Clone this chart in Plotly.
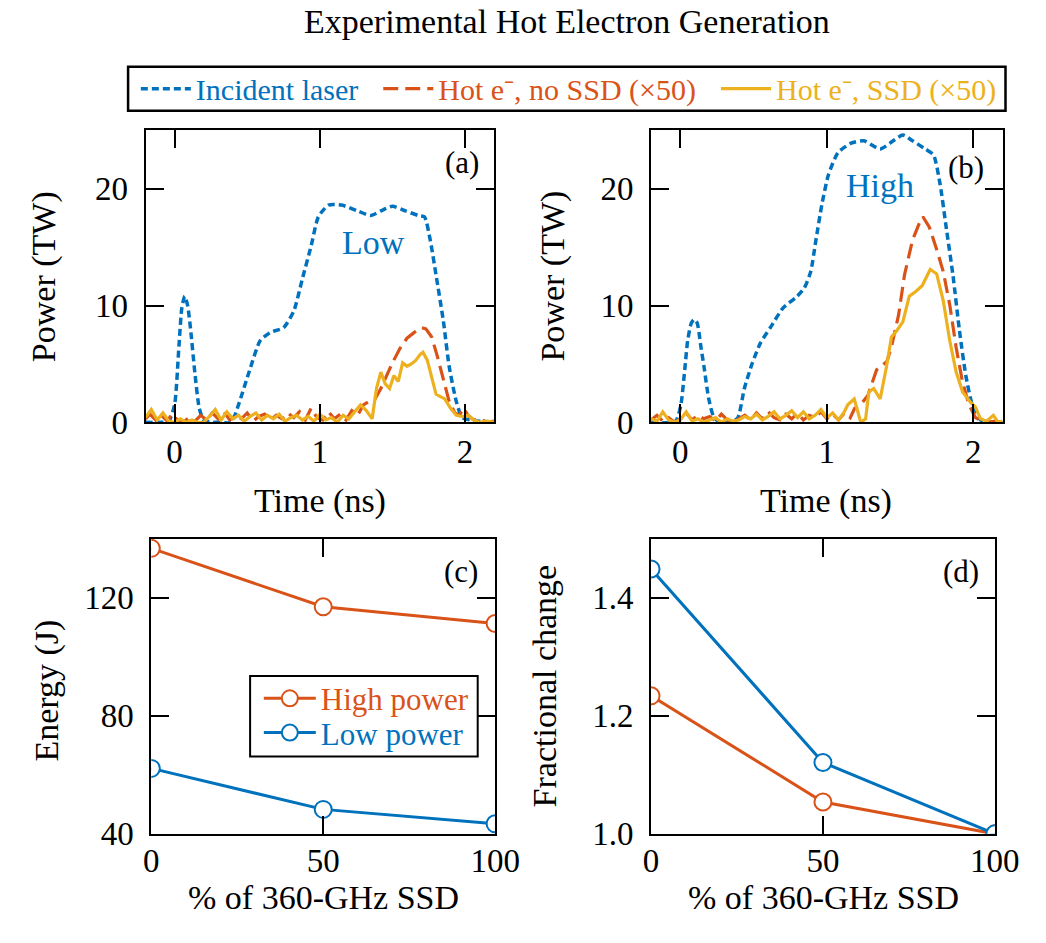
import plotly.graph_objects as go

# ---------------- data ----------------
a_laser_t = [-0.2, -0.1, -0.04, 0.0, 0.03, 0.05, 0.07, 0.09, 0.11, 0.14, 0.17, 0.2, 0.25, 0.3, 0.39, 0.44, 0.51, 0.59, 0.66, 0.75, 0.82, 0.88, 0.94, 0.99, 1.06, 1.15, 1.26, 1.35, 1.42, 1.5, 1.59, 1.68, 1.72, 1.76, 1.8, 1.85, 1.89, 1.94, 1.98, 2.04, 2.1, 2.2]
a_laser_p = [0, 0, 0.1, 1.5, 6.5, 9.8, 10.8, 10.0, 8.0, 4.2, 1.2, 0.2, 0, 0, 0, 1.5, 4.2, 7.0, 7.7, 8.1, 9.5, 12.3, 15.1, 17.6, 18.6, 18.6, 18.1, 17.7, 18.1, 18.5, 18.1, 17.7, 17.6, 15.6, 12.6, 8.7, 4.8, 1.75, 0.4, 0.2, 0.1, 0]

a_nossd_t = [-0.2, -0.17, -0.13, -0.09, -0.05, -0.02, 0.02, 0.06, 0.1, 0.14, 0.18, 0.22, 0.26, 0.3, 0.34, 0.38, 0.42, 0.46, 0.5, 0.54, 0.58, 0.62, 0.66, 0.7, 0.74, 0.78, 0.82, 0.86, 0.9, 0.94, 0.98, 1.02, 1.06, 1.1, 1.14, 1.18, 1.22, 1.26, 1.3, 1.34, 1.38, 1.42, 1.46, 1.5, 1.55, 1.6, 1.65, 1.7, 1.73, 1.77, 1.81, 1.85, 1.89, 1.93, 1.96, 1.99, 2.02, 2.06, 2.1, 2.15, 2.2]
a_nossd_p = [0.3, 0.7, 0.2, 0.6, 0.1, 0.7, 0.2, 0.0, 0.4, 0.1, 0.6, 0.2, 0.8, 0.3, 0.9, 0.2, 0.6, 0.3, 0.8, 0.1, 0.5, 0.7, 0.2, 0.6, 0.3, 0.8, 0.4, 0.9, 0.2, 1.2, 0.4, 0.2, 0.9, 0.3, 0.7, 0.2, 1.0, 0.6, 1.5, 1.8, 2.0, 2.9, 4.0, 5.1, 6.3, 7.2, 7.7, 8.1, 8.0, 7.3, 5.6, 3.7, 1.8, 0.8, 0.6, 1.2, 0.6, 0.2, 0.3, 0.0, 0.1]

a_ssd_t = [-0.2, -0.16, -0.12, -0.08, -0.04, 0.0, 0.04, 0.08, 0.12, 0.16, 0.2, 0.24, 0.28, 0.32, 0.36, 0.4, 0.44, 0.48, 0.52, 0.56, 0.6, 0.64, 0.68, 0.72, 0.76, 0.8, 0.84, 0.88, 0.92, 0.96, 1.0, 1.04, 1.08, 1.12, 1.16, 1.2, 1.24, 1.28, 1.32, 1.36, 1.39, 1.42, 1.45, 1.48, 1.51, 1.54, 1.57, 1.6, 1.63, 1.66, 1.69, 1.71, 1.74, 1.77, 1.8, 1.83, 1.86, 1.9, 1.94, 1.98, 2.02, 2.06, 2.1, 2.15, 2.2]
a_ssd_p = [0.4, 1.1, 0.2, 0.8, 0.1, 0.0, 0.3, 0.0, 0.2, 0.0, 0.0, 0.5, 1.1, 0.2, 0.9, 0.3, 0.6, 0.1, 0.5, 0.8, 0.2, 0.6, 0.3, 0.7, 0.1, 0.4, 0.6, 0.2, 0.5, 0.1, 0.7, 0.2, 0.4, 0.0, 0.6, 0.3, 0.9, 1.5, 1.0, 0.3, 2.9, 4.3, 3.3, 2.9, 4.0, 3.5, 5.1, 4.8, 5.0, 5.3, 5.8, 6.0, 5.3, 3.7, 2.4, 2.2, 2.0, 1.2, 0.6, 0.5, 0.6, 0.2, 0.0, 0.1, 0.0]

b_laser_t = [-0.2, -0.05, -0.026, 0.004, 0.03, 0.05, 0.075, 0.095, 0.115, 0.14, 0.161, 0.194, 0.227, 0.27, 0.35, 0.393, 0.437, 0.492, 0.547, 0.614, 0.702, 0.79, 0.846, 0.89, 0.923, 0.967, 1.011, 1.077, 1.166, 1.254, 1.364, 1.453, 1.519, 1.585, 1.673, 1.728, 1.773, 1.817, 1.861, 1.905, 1.949, 1.993, 2.049, 2.1, 2.2]
b_laser_p = [0, 0, 0.2, 1.5, 4.5, 7.0, 8.5, 8.8, 8.5, 6.5, 4.8, 2.0, 0.5, 0, 0, 0.4, 2.9, 5.1, 6.8, 8.1, 9.8, 10.7, 11.5, 12.9, 15.4, 18.7, 21.2, 23.1, 23.9, 24.1, 23.4, 24.1, 24.6, 24.1, 23.4, 22.9, 20.4, 16.5, 12.6, 7.9, 4.0, 1.5, 0.2, 0.0, 0]

b_nossd_t = [-0.2, -0.16, -0.12, -0.08, -0.04, 0.0, 0.04, 0.08, 0.12, 0.16, 0.2, 0.24, 0.28, 0.32, 0.36, 0.4, 0.44, 0.48, 0.52, 0.56, 0.6, 0.64, 0.68, 0.72, 0.76, 0.8, 0.84, 0.88, 0.92, 0.96, 1.0, 1.04, 1.08, 1.12, 1.16, 1.19, 1.23, 1.28, 1.34, 1.41, 1.44, 1.49, 1.53, 1.585, 1.63, 1.656, 1.7, 1.75, 1.795, 1.84, 1.883, 1.927, 1.971, 2.015, 2.06, 2.1, 2.15, 2.2]
b_nossd_p = [0.2, 0.6, 0.1, 0.4, 0.0, 0.3, 0.8, 0.2, 0.6, 0.3, 0.5, 0.1, 0.7, 0.2, 0.0, 0.3, 0.6, 0.2, 0.8, 0.3, 0.9, 0.4, 0.2, 0.7, 0.3, 0.8, 0.2, 0.6, 0.4, 0.9, 0.3, 0.7, 0.2, 0.8, 0.4, 1.2, 1.5, 2.3, 4.5, 5.2, 6.4, 9.2, 12.6, 15.6, 17.0, 17.6, 16.7, 14.8, 12.9, 10.0, 6.4, 3.4, 1.5, 0.4, 0.1, 0.0, 0.1, 0.0]

b_ssd_t = [-0.2, -0.16, -0.12, -0.08, -0.04, 0.0, 0.04, 0.08, 0.12, 0.16, 0.2, 0.24, 0.28, 0.32, 0.36, 0.4, 0.44, 0.48, 0.52, 0.56, 0.6, 0.64, 0.68, 0.72, 0.76, 0.8, 0.84, 0.88, 0.92, 0.96, 1.0, 1.04, 1.08, 1.12, 1.143, 1.187, 1.232, 1.265, 1.287, 1.32, 1.364, 1.408, 1.441, 1.475, 1.519, 1.563, 1.607, 1.651, 1.706, 1.75, 1.795, 1.839, 1.883, 1.927, 1.982, 2.015, 2.049, 2.09, 2.137, 2.17, 2.2]
b_ssd_p = [0.3, 0.1, 0.9, 0.2, 0.0, 0.2, 0.9, 0.1, 0.3, 0.0, 0.2, 0.4, 0.0, 0.3, 0.1, 0.2, 0.5, 0.3, 0.7, 0.2, 0.5, 0.9, 0.3, 0.6, 1.0, 0.4, 0.9, 0.3, 0.6, 1.1, 0.4, 0.8, 0.2, 0.9, 1.5, 2.0, 0.0, 0.3, 2.6, 2.9, 2.0, 4.8, 7.3, 7.8, 8.6, 10.8, 11.2, 11.7, 13.1, 12.7, 10.4, 7.0, 4.3, 2.6, 1.7, 1.3, 0.3, 0.1, 0.6, 0.0, 0.1]

ssd_pct = [0, 50, 100]
energy_high = [136.8, 117.0, 111.3]
energy_low = [62.2, 48.3, 43.4]
frac_high = [1.234, 1.054, 1.0]
frac_low = [1.449, 1.121, 1.0]

time_ticks = [0, 1, 2]
power_ticks = [0, 10, 20]
pct_ticks = [0, 50, 100]
energy_ticks = [40, 80, 120]
frac_ticks = [1.0, 1.2, 1.4]

# ---------------- style ----------------
BLUE = "#0072BD"
RED = "#D95319"
YEL = "#EDB120"
FONT = "Liberation Serif"
W, H = 1046, 943
NB = "\u00a0"

def px_x(p):
    return p / W

def px_y(p):
    return 1 - p / H

fig = go.Figure()

def lab(text, color):
    return f'<span style="color:{color}">{text}</span>'

for xa, ya, lt, lp, nt, np_, st, sp, show in [
    ("x", "y", a_laser_t, a_laser_p, a_nossd_t, a_nossd_p, a_ssd_t, a_ssd_p, True),
    ("x2", "y2", b_laser_t, b_laser_p, b_nossd_t, b_nossd_p, b_ssd_t, b_ssd_p, False),
]:
    fig.add_trace(go.Scatter(x=lt, y=lp, xaxis=xa, yaxis=ya, mode="lines",
                             line=dict(color=BLUE, width=3.5, dash="7px,4px", shape="spline", smoothing=0.6),
                             name=lab("Incident laser" + NB * 2, BLUE), showlegend=show, legend="legend"))
    fig.add_trace(go.Scatter(x=nt, y=np_, xaxis=xa, yaxis=ya, mode="lines",
                             line=dict(color=RED, width=3.2, dash="15px,7px"),
                             name=lab("Hot e⁻, no SSD (×50)" + NB * 2, RED), showlegend=show, legend="legend"))
    fig.add_trace(go.Scatter(x=st, y=sp, xaxis=xa, yaxis=ya, mode="lines",
                             line=dict(color=YEL, width=3.2),
                             name=lab("Hot e⁻, SSD (×50)", YEL), showlegend=show, legend="legend"))

mk = dict(symbol="circle", size=17, color="white")
fig.add_trace(go.Scatter(x=ssd_pct, y=energy_high, xaxis="x3", yaxis="y3", mode="lines+markers",
                         line=dict(color=RED, width=3), marker=dict(mk, line=dict(color=RED, width=2)),
                         name=lab("High power", RED), legend="legend2"))
fig.add_trace(go.Scatter(x=ssd_pct, y=energy_low, xaxis="x3", yaxis="y3", mode="lines+markers",
                         line=dict(color=BLUE, width=3), marker=dict(mk, line=dict(color=BLUE, width=2)),
                         name=lab("Low power", BLUE), legend="legend3"))
fig.add_trace(go.Scatter(x=ssd_pct, y=frac_high, xaxis="x4", yaxis="y4", mode="lines+markers",
                         line=dict(color=RED, width=3), marker=dict(mk, line=dict(color=RED, width=2)),
                         showlegend=False))
fig.add_trace(go.Scatter(x=ssd_pct, y=frac_low, xaxis="x4", yaxis="y4", mode="lines+markers",
                         line=dict(color=BLUE, width=3), marker=dict(mk, line=dict(color=BLUE, width=2)),
                         showlegend=False))

axis_common = dict(showline=True, linecolor="black", linewidth=2, mirror="allticks",
                   ticks="inside", ticklen=18, tickwidth=2, tickcolor="black",
                   showgrid=False, zeroline=False,
                   tickfont=dict(family=FONT, size=33, color="black"))

top_y = [px_y(431), px_y(133)]
bot_y = [px_y(851), px_y(550)]

leg_common = dict(bordercolor="rgba(0,0,0,0)", borderwidth=0, bgcolor="rgba(0,0,0,0)",
                  tracegroupgap=0)

fig.update_layout(
    xaxis=dict(axis_common, domain=[px_x(142), px_x(502)], range=[-0.2, 2.2], tickvals=time_ticks, anchor="y", ticklabelstandoff=-1),
    yaxis=dict(axis_common, domain=top_y, range=[0, 25], tickvals=power_ticks, anchor="x", ticklabelstandoff=9),
    xaxis2=dict(axis_common, domain=[px_x(664), px_x(1027)], range=[-0.2, 2.2], tickvals=time_ticks, anchor="y2", ticklabelstandoff=-1),
    yaxis2=dict(axis_common, domain=top_y, range=[0, 25], tickvals=power_ticks, anchor="x2", ticklabelstandoff=9),
    xaxis3=dict(axis_common, domain=[px_x(148), px_x(503)], range=[0, 100], tickvals=pct_ticks, anchor="y3", ticklabelstandoff=-3),
    yaxis3=dict(axis_common, domain=bot_y, range=[40, 140], tickvals=energy_ticks, anchor="x3", ticklabelstandoff=9),
    xaxis4=dict(axis_common, domain=[px_x(664), px_x(1019)], range=[0, 100], tickvals=pct_ticks, anchor="y4", ticklabelstandoff=-3),
    yaxis4=dict(axis_common, domain=bot_y, range=[1.0, 1.5], tickvals=frac_ticks, tickformat=".1f", anchor="x4", ticklabelstandoff=9),
    width=W, height=H,
    margin=dict(l=0, r=0, t=0, b=0),
    paper_bgcolor="white", plot_bgcolor="white",
    font=dict(family=FONT, size=31, color="black"),
    legend=dict(leg_common, orientation="h", x=px_x(132), y=px_y(90.5), xanchor="left", yanchor="middle",
                font=dict(family=FONT, size=30), itemwidth=50),
    legend2=dict(leg_common, orientation="v", x=px_x(259), y=px_y(713), xanchor="left", yanchor="middle",
                 font=dict(family=FONT, size=31), itemwidth=52),
    legend3=dict(leg_common, orientation="v", x=px_x(259), y=px_y(748), xanchor="left", yanchor="middle",
                 font=dict(family=FONT, size=31), itemwidth=52),
    shapes=[
        dict(type="rect", xref="paper", yref="paper", x0=px_x(124), x1=px_x(1030), y0=px_y(113), y1=px_y(68),
             line=dict(color="black", width=2.5), fillcolor="rgba(0,0,0,0)", layer="above"),
        dict(type="rect", xref="paper", yref="paper", x0=px_x(250), x1=px_x(485), y0=px_y(772), y1=px_y(690),
             line=dict(color="black", width=2), fillcolor="white", layer="above"),
    ],
)

ann = []
def txt(x, y, text, xref="paper", yref="paper", size=31, color="black", angle=0, xanchor="center", yanchor="middle"):
    ann.append(dict(x=x, y=y, xref=xref, yref=yref, text=text, showarrow=False, textangle=angle,
                    xanchor=xanchor, yanchor=yanchor, font=dict(family=FONT, size=size, color=color)))

txt(px_x(577), px_y(22), "Experimental Hot Electron Generation", size=34)
# axis titles
txt(px_x(37), px_y(282), "Power (TW)", angle=-90, size=34)
txt(px_x(563), px_y(282), "Power (TW)", angle=-90, size=34)
txt(px_x(322), px_y(511), "Time (ns)", size=34)
txt(px_x(845), px_y(511), "Time (ns)", size=34)
txt(px_x(40), px_y(705), "Energy (J)", angle=-90, size=34)
txt(px_x(554), px_y(700), "Fractional change", angle=-90, size=34)
txt(px_x(326), px_y(916), "% of 360-GHz SSD", size=34)
txt(px_x(842), px_y(916), "% of 360-GHz SSD", size=34)
# panel labels
txt(0.961, 0.955, "(a)", xref="x domain", yref="y domain", xanchor="right", yanchor="top")
txt(0.953, 0.94, "(b)", xref="x2 domain", yref="y2 domain", xanchor="right", yanchor="top")
txt(0.955, 0.955, "(c)", xref="x3 domain", yref="y3 domain", xanchor="right", yanchor="top")
txt(0.96, 0.955, "(d)", xref="x4 domain", yref="y4 domain", xanchor="right", yanchor="top")
# in-plot labels
txt(1.367, 15.4, "Low", xref="x", yref="y", color=BLUE, size=34)
txt(1.36, 20.3, "High", xref="x2", yref="y2", color=BLUE, size=34)

fig.update_layout(annotations=ann)
fig.write_html("out.html")
